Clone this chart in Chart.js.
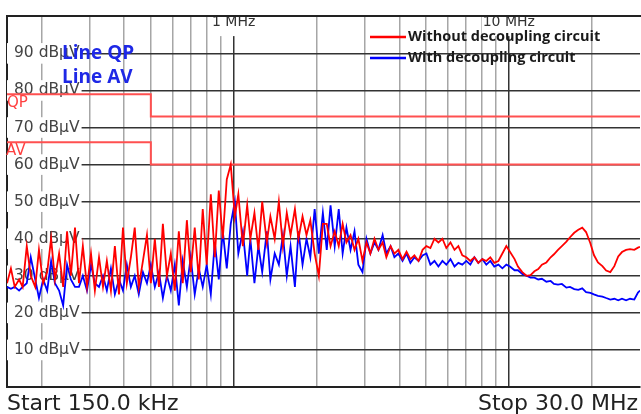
<!DOCTYPE html>
<html>
<head>
<meta charset="utf-8">
<script src="https://cdn.jsdelivr.net/npm/chart.js@4.4.1/dist/chart.umd.min.js"></script>
<style>
  body { margin: 0; background: #fff; }
  #wrap { width: 641px; height: 414px; }
</style>
</head>
<body>
<div id="wrap"><canvas id="canvas" width="641" height="414"></canvas></div>
<script>
// sweep points (MHz)
const freqMHz = [
  0.150, 0.155, 0.160, 0.166, 0.171, 0.177, 0.183, 0.190, 0.196, 0.203,
  0.210, 0.217, 0.224, 0.232, 0.240, 0.248, 0.256, 0.265, 0.274, 0.283,
  0.293, 0.303, 0.313, 0.324, 0.335, 0.346, 0.358, 0.370, 0.383, 0.396,
  0.409, 0.423, 0.437, 0.452, 0.468, 0.484, 0.500, 0.517, 0.535, 0.553,
  0.572, 0.591, 0.611, 0.632, 0.653, 0.676, 0.698, 0.722, 0.747, 0.772,
  0.798, 0.826, 0.854, 0.883, 0.913, 0.944, 0.976, 1.01, 1.04, 1.08,
  1.12, 1.15, 1.19, 1.23, 1.27, 1.32, 1.36, 1.41, 1.46, 1.51,
  1.56, 1.61, 1.67, 1.72, 1.78, 1.84, 1.90, 1.97, 2.04, 2.11,
  2.18, 2.25, 2.33, 2.41, 2.49, 2.57, 2.66, 2.75, 2.84, 2.94,
  3.04, 3.14, 3.25, 3.36, 3.48, 3.59, 3.72, 3.84, 3.97, 4.11,
  4.25, 4.39, 4.54, 4.70, 4.86, 5.02, 5.19, 5.37, 5.55, 5.74,
  5.93, 6.14, 6.35, 6.56, 6.78, 7.01, 7.25, 7.50, 7.75, 8.02,
  8.29, 8.57, 8.86, 9.17, 9.48, 9.80, 10.1, 10.5, 10.8, 11.2,
  11.6, 12.0, 12.4, 12.8, 13.2, 13.7, 14.2, 14.6, 15.1, 15.6,
  16.2, 16.7, 17.3, 17.9, 18.5, 19.1, 19.8, 20.4, 21.1, 21.9,
  22.6, 23.4, 24.2, 25.0, 25.8, 26.7, 27.6, 28.6, 29.5, 30.0
];

// Without decoupling circuit (dBµV)
const redDb = [
  28, 32, 27, 29, 27, 38, 30, 27, 37, 28,
  31, 40, 29, 36, 27, 42, 30, 43, 28, 38,
  27, 36, 26, 35, 27, 34, 26, 38, 25, 43,
  28, 35, 43, 27, 34, 41, 28, 40, 27, 44,
  30, 36, 26, 42, 28, 45, 31, 43, 29, 48,
  33, 52, 35, 53, 40, 56, 60, 46, 52, 38,
  49, 40, 47, 37, 50, 39, 46, 40, 50, 38,
  47, 41, 48, 40, 46, 41, 45, 36, 30, 44,
  44, 38, 42, 38, 44, 39, 41, 37, 40, 34,
  39, 36, 40, 37, 39, 35, 38, 36, 37, 34.5,
  36.5, 34.5, 35.5, 34, 37, 38, 37.5, 40, 39, 40,
  37.5, 39, 37, 38, 35.5, 35, 34, 35, 33.5, 34.5,
  34, 35, 33.5, 34, 36, 38, 36.5, 34.5, 32.5, 31,
  30, 30.2, 31.2, 31.8, 33, 33.6, 35, 35.8, 37, 38,
  39.2, 40.4, 41.6, 42.4, 43, 41.8, 38.8, 35.6, 33.6, 32.6,
  31.4, 31, 32.6, 35.2, 36.4, 37, 37.2, 37, 37.6, 37.8
];

// With decoupling circuit (dBµV)
const blueDb = [
  27, 26.5, 27, 26, 27, 28, 35, 29, 24, 29,
  26, 34, 28, 26, 22, 33, 29, 27, 27, 30,
  26, 33, 28, 27, 30, 26, 32, 25, 29, 26,
  33, 27, 30, 25, 31, 28, 33, 27, 31, 24,
  30, 26, 33, 22, 34, 27, 35, 25, 32, 27,
  33, 25, 39, 29, 42, 32, 44, 50, 36, 42,
  30, 40, 28, 38, 31, 42, 29, 36, 33, 41,
  30, 38, 27, 42, 33, 40, 35, 48, 36, 47,
  37, 49, 38, 48, 36, 43, 37, 42, 33, 31,
  40, 36, 39, 37, 41, 36, 38, 35, 36, 34,
  36, 33.5, 35, 34, 35.5, 36, 33, 34, 32.5, 34,
  33, 34.5, 32.5, 33.5, 33, 34, 33, 35, 33.5, 34.5,
  33, 34, 32.5, 33, 32, 33, 32.5, 31.5, 31.5, 30.5,
  30, 29.5, 29.5, 29, 29.2, 28.4, 28.6, 27.8, 27.6, 27.8,
  26.8, 27, 26.4, 26.2, 26.6, 25.6, 25.4, 25, 24.6, 24.4,
  24, 23.6, 23.8, 23.4, 23.8, 23.4, 23.8, 23.6, 25.5, 26
];

// limit lines
const limitFreq = [0.15, 0.5, 30];
const qpDb = [79, 73, 73];
const avDb = [66, 60, 60];

// grid / tick positions
const xGrid = [0.2, 0.3, 0.4, 0.5, 0.6, 0.7, 0.8, 0.9, 1, 2, 3, 4, 5, 6, 7, 8, 9, 10, 20];
const topTicks = [1, 10];
const yGrid = [10, 20, 30, 40, 50, 60, 70, 80, 90];

const pts = (xs, ys) => xs.map((x, i) => ({x: x, y: ys[i]}));

const extras = {
  id: 'extras',
  afterDatasetsDraw(chart) {
    const ctx = chart.ctx;
    const y = chart.scales.y;
    ctx.save();
    ctx.textBaseline = 'middle';

    // limit labels
    ctx.fillStyle = '#ff4040';
    ctx.font = '15px "DejaVu Sans"';
    ctx.textAlign = 'left';
    ctx.fillText('QP', 7, y.getPixelForValue(76.5));
    ctx.fillText('AV', 6, y.getPixelForValue(63.5));

    ctx.fillStyle = '#1e28e6';
    ctx.font = 'bold 19px "Open Sans"';
    ctx.fillText('Line QP', 62, y.getPixelForValue(90));
    ctx.fillText('Line AV', 62, y.getPixelForValue(83.6));

    // legend
    const ds = chart.data.datasets;
    const rows = [[ds[0], 37], [ds[1], 58]];
    ctx.font = 'bold 14.5px "Open Sans"';
    rows.forEach(([d, ly]) => {
      ctx.strokeStyle = d.borderColor;
      ctx.lineWidth = 2.5;
      ctx.beginPath();
      ctx.moveTo(370, ly);
      ctx.lineTo(406, ly);
      ctx.stroke();
      ctx.fillStyle = '#1a1a1a';
      ctx.fillText(d.label, 408, ly);
    });

    // start / stop
    ctx.font = '22px "DejaVu Sans"';
    ctx.fillStyle = '#222';
    ctx.textBaseline = 'alphabetic';
    ctx.textAlign = 'left';
    ctx.fillText('Start 150.0 kHz', 7, 410);
    ctx.textAlign = 'right';
    ctx.fillText('Stop 30.0 MHz', 638, 410);
    ctx.restore();
  }
};

const data = {
  datasets: [{
    label: 'Without decoupling circuit',
    data: pts(freqMHz, redDb),
    borderColor: '#ff0000',
    borderWidth: 1.8
  }, {
    label: 'With decoupling circuit',
    data: pts(freqMHz, blueDb),
    borderColor: '#0000ff',
    borderWidth: 1.8
  }, {
    label: 'QP',
    data: pts(limitFreq, qpDb),
    borderColor: '#ff5050',
    borderWidth: 2,
    stepped: 'before'
  }, {
    label: 'AV',
    data: pts(limitFreq, avDb),
    borderColor: '#ff5050',
    borderWidth: 2,
    stepped: 'before'
  }]
};

const config = {
  type: 'line',
  data: data,
  options: {
    responsive: false,
    animation: false,
    devicePixelRatio: 1,
    layout: { padding: { left: 0, top: 0, right: 1, bottom: 27 } },
    elements: { point: { radius: 0 }, line: { tension: 0 } },
    plugins: { legend: { display: false }, tooltip: { enabled: false } },
    scales: {
      x: {
        type: 'logarithmic',
        position: 'bottom',
        min: 0.15,
        max: 30,
        afterBuildTicks: s => { s.ticks = xGrid.map(v => ({value: v})); },
        afterFit: s => { s.height = 0; },
        ticks: { display: false },
        grid: {
          drawTicks: false,
          lineWidth: 1.5,
          color: c => (c.tick && (c.tick.value === 1 || c.tick.value === 10)) ? '#333' : '#a6a6a6'
        },
        border: { display: true, color: '#222', width: 2 }
      },
      x2: {
        type: 'logarithmic',
        position: 'top',
        min: 0.15,
        max: 30,
        afterBuildTicks: s => { s.ticks = topTicks.map(v => ({value: v})); },
        afterFit: s => { s.height = 10; },
        ticks: {
          mirror: true,
          padding: -2,
          maxRotation: 0,
          autoSkip: false,
          color: '#333',
          font: { size: 14, family: 'DejaVu Sans' },
          showLabelBackdrop: true,
          backdropColor: '#fff',
          backdropPadding: { top: 0, bottom: 5, left: 1, right: 1 },
          callback: v => v + ' MHz'
        },
        grid: { display: false, drawTicks: false },
        border: { display: true, color: '#222', width: 2, z: 1 }
      },
      y: {
        min: 0,
        max: 100,
        afterBuildTicks: s => { s.ticks = yGrid.map(v => ({value: v})); },
        afterFit: s => { s.width = 7; },
        ticks: {
          mirror: true,
          padding: 7,
          color: '#444',
          font: { size: 15.5, family: 'DejaVu Sans' },
          showLabelBackdrop: true,
          backdropColor: '#fff',
          backdropPadding: { top: 1, bottom: 1, left: 7, right: 2 },
          callback: v => v + ' dBµV'
        },
        grid: { drawTicks: false, lineWidth: 1.5, color: '#333' },
        border: { display: true, color: '#222', width: 2 }
      }
    }
  },
  plugins: [extras]
};

const canvas = document.getElementById('canvas');
const chart = new Chart(canvas, config);
</script>
</body>
</html>
